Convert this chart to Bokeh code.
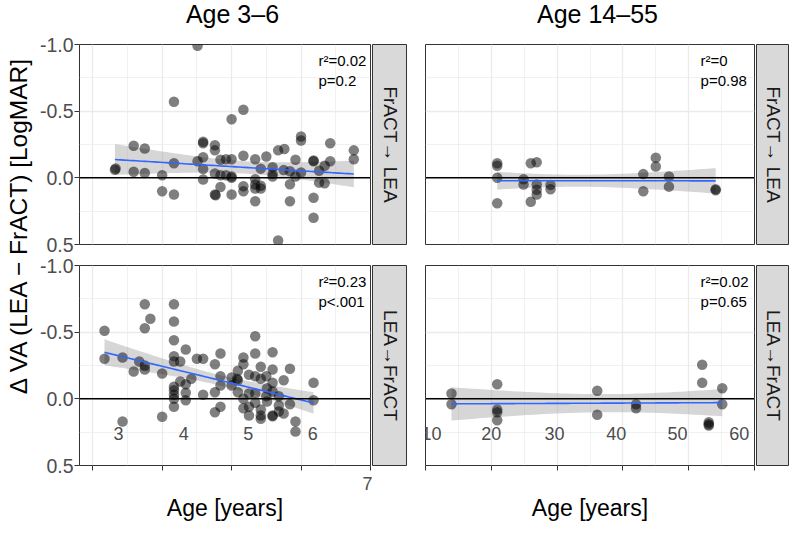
import numpy as np
from bokeh.plotting import figure
from bokeh.models import FixedTicker, Range1d, Span, NumeralTickFormatter
from bokeh.layouts import row, column
from bokeh.embed import file_html
from bokeh.resources import INLINE
from bokeh.core.properties import value

FONT = "Liberation Sans"

# ---------------- data ----------------
col_titles = ["Age 3\u20136", "Age 14\u201355"]
row_strips = ["FrACT\u2192 LEA", "LEA\u2192FrACT"]
y_title = "\u0394 VA (LEA \u2212 FrACT) [LogMAR]"
x_title = "Age [years]"

y_ticks = [-1.0, -0.5, 0.0, 0.5]
y_minor = [-0.75, -0.25, 0.25]
kid_ticks = [3, 4, 5, 6, 7]
kid_minor = [3.5, 4.5, 5.5, 6.5]
adult_ticks = [10, 20, 30, 40, 50, 60]
adult_minor = [15, 25, 35, 45, 55]

# children, FrACT -> LEA
kf_age = [3.33, 3.32, 3.59, 3.59, 3.75, 3.75, 4.0, 4.0, 4.17, 4.17, 4.17, 4.51, 4.51,
          4.59, 4.59, 4.59, 4.59, 4.59, 4.76, 4.76, 4.76, 4.76, 4.77, 4.84, 4.84, 4.84,
          4.92, 4.92, 5.0, 5.0, 5.0, 5.0, 5.0, 5.17, 5.17, 5.17, 5.17, 5.34, 5.34, 5.34,
          5.34, 5.34, 5.42, 5.42, 5.42, 5.5, 5.59, 5.59, 5.59, 5.67, 5.67, 5.75, 5.76,
          5.84, 5.84, 5.84, 5.92, 5.92, 6.0, 6.0, 6.0, 6.18, 6.18, 6.18, 6.18, 6.26, 6.26,
          6.34, 6.34, 6.42, 6.42, 6.76, 6.76]
kf_dva = [-0.07, -0.06, -0.24, -0.045, -0.22, -0.036, -0.02, 0.10, -0.57, -0.11, 0.125,
          -0.99, -0.125, -0.27, -0.26, -0.155, -0.066, 0.013, -0.244, -0.206, -0.033,
          0.125, 0.13, -0.135, -0.02, 0.069, -0.14, -0.02, -0.44, -0.14, -0.01, 0.0,
          0.125, -0.51, -0.165, 0.063, 0.10, -0.14, 0.01, 0.05, 0.08, 0.175, -0.069,
          0.06, 0.08, -0.16, -0.08, -0.03, -0.01, -0.206, 0.47, -0.058, -0.216, 0.048,
          0.175, -0.05, -0.135, -0.01, -0.31, -0.28, -0.04, -0.13, -0.125, 0.15, 0.30,
          -0.053, 0.036, -0.09, 0.04, -0.26, -0.125, -0.206, -0.14]

# children, LEA -> FrACT
kl_age = [3.17, 3.17, 3.43, 3.43, 3.59, 3.67, 3.75, 3.75, 3.75, 3.75, 3.83, 4.0, 4.0,
          4.17, 4.17, 4.17, 4.17, 4.17, 4.17, 4.17, 4.17, 4.17, 4.17,
          4.26, 4.26, 4.34, 4.34, 4.34, 4.34, 4.42, 4.5, 4.59, 4.59, 4.76, 4.76, 4.76,
          4.84, 4.84, 4.84, 4.84, 5.0, 5.0, 5.09, 5.09, 5.09, 5.08, 5.17, 5.17, 5.17,
          5.17, 5.25, 5.25, 5.25, 5.25, 5.34, 5.34, 5.34, 5.34, 5.34, 5.42, 5.42, 5.42,
          5.42, 5.42, 5.5, 5.5, 5.51, 5.51, 5.59, 5.59, 5.59, 5.59, 5.59, 5.59, 5.68,
          5.68, 5.68, 5.75, 5.75, 5.84, 5.84, 5.92, 5.92, 6.18, 6.18]
kl_dva = [-0.51, -0.30, -0.31, 0.17, -0.205, -0.28, -0.71, -0.53, -0.25, -0.22, -0.60,
          -0.19, 0.135,
          -0.71, -0.58, -0.44, -0.32, -0.28, -0.09, -0.065, -0.03, 0.0, 0.06,
          -0.28, -0.13, -0.37, -0.11, -0.045, 0.01, -0.15, -0.30, -0.30, -0.03, -0.26,
          -0.05, 0.10, -0.34, -0.17, -0.10, 0.06, -0.10, -0.16, -0.21, -0.05, -0.14,
          -0.15, -0.31, -0.26, 0.0, 0.07, -0.18, 0.06, 0.125, -0.04, -0.47, -0.34, -0.17,
          -0.04, 0.03, -0.24, 0.08, 0.125, -0.15, 0.15, -0.17, -0.02, -0.08, 0.02, -0.35,
          -0.22, -0.12, -0.055, 0.125, 0.13, -0.02, 0.095, 0.05, -0.14, 0.11, -0.225,
          0.04, 0.17, 0.245, -0.12, 0.01]

# adults, FrACT -> LEA
af_age = [20.9, 20.9, 20.9, 20.9, 24.9, 24.9, 26.0, 26.0, 26.9, 26.9, 26.9, 26.9, 29.0,
          29.0, 43.1, 43.1, 45.0, 45.0, 47.0, 47.0, 54.1, 54.1]
af_dva = [-0.11, -0.09, 0.0, 0.19, 0.01, 0.05, -0.11, 0.18, -0.117, 0.05, 0.09, 0.125,
          0.053, 0.086, -0.028, 0.10, -0.15, -0.085, -0.01, 0.066, 0.086, 0.094]

# adults, LEA -> FrACT
al_age = [13.95, 13.95, 20.9, 20.9, 20.9, 20.9, 36.1, 36.1, 42.0, 42.0, 52.05, 52.05,
          53.05, 53.05, 53.05, 55.1, 55.1]
al_dva = [-0.04, 0.04, -0.11, 0.08, 0.10, 0.16, -0.06, 0.12, 0.04, 0.07, -0.255, -0.12,
          0.175, 0.19, 0.20, -0.08, 0.04]

stats_text = [["r\u00b2=0.02", "p=0.2"], ["r\u00b2=0", "p=0.98"],
              ["r\u00b2=0.23", "p<.001"], ["r\u00b2=0.02", "p=0.65"]]

# tick-label texts drawn inside the lower panels (as in the original figure)
kid_inner_labels = ["3", "4", "5", "6"]
adult_inner_labels = ["10", "20", "30", "40", "50", "60"]

# ---------------- layout constants ----------------
FW_L, FW_R, FH = 291, 329, 200
HEAD = 34
TOP_B, MID_B1, MID_B2, BOT_B = 10, 10, 11, 66
LEFT_B, RIGHT_GAP = 43, 2
STRIP_L, STRIP_R = 35, 33
GAP_R = 18
YL_W = 36
GRID = "#EBEBEB"
BORDER = "#333333"
TXT = "#4D4D4D"


def t_quant(df):
    z = 1.959964
    return (z + (z**3 + z) / (4 * df) + (5 * z**5 + 16 * z**3 + 3 * z) / (96 * df**2)
            + (3 * z**7 + 19 * z**5 + 17 * z**3 - 15 * z) / (384 * df**3))


def lm_fit(x, y):
    x = np.asarray(x, float)
    y = np.asarray(y, float)
    n = len(x)
    b, a = np.polyfit(x, y, 1)
    xs = np.linspace(x.min(), x.max(), 80)
    yh = a + b * xs
    res = y - (a + b * x)
    s = np.sqrt(np.sum(res**2) / (n - 2))
    se = s * np.sqrt(1.0 / n + (xs - x.mean())**2 / np.sum((x - x.mean())**2))
    t = t_quant(n - 2)
    return xs, yh, yh - t * se, yh + t * se


def blank(fig):
    fig.xaxis.visible = False
    fig.yaxis.visible = False
    fig.xgrid.visible = False
    fig.ygrid.visible = False


def panel(x, y, xr, xt, xm, fw, left_b, top_b, bot_b, show_x, show_y, stats,
          stat_x, inner=None, inner_x=None, last_label=None):
    p = figure(frame_width=fw, frame_height=FH, x_range=Range1d(*xr),
               y_range=Range1d(0.5, -1.0), output_backend="svg", toolbar_location=None,
               min_border_left=left_b, min_border_right=RIGHT_GAP,
               min_border_top=top_b, min_border_bottom=bot_b)
    p.background_fill_color = "white"
    p.border_fill_color = "white"
    p.outline_line_color = BORDER
    p.outline_line_width = 1

    xtick = FixedTicker(ticks=xt, minor_ticks=xm)
    ytick = FixedTicker(ticks=y_ticks, minor_ticks=y_minor)
    p.xaxis.ticker = xtick
    p.yaxis.ticker = ytick
    p.xgrid.ticker = xtick
    p.ygrid.ticker = ytick
    for g in (p.xgrid, p.ygrid):
        g.grid_line_color = GRID
        g.grid_line_width = 1.3
        g.minor_grid_line_color = GRID
        g.minor_grid_line_width = 0.7

    for ax in (p.xaxis, p.yaxis):
        ax.axis_line_color = None
        ax.major_tick_line_color = BORDER
        ax.major_tick_in = 0
        ax.major_tick_out = 5
        ax.minor_tick_line_color = None
        ax.major_label_text_font = FONT
        ax.major_label_text_font_size = "18px"
        ax.major_label_text_color = TXT

    p.yaxis.formatter = NumeralTickFormatter(format="0.0")
    p.yaxis.major_label_text_font_size = "19.5px"
    p.yaxis.major_label_standoff = 1
    p.yaxis.visible = show_y

    if show_x:
        p.xaxis.major_label_standoff = 3
        ov = {}
        for t in xt:
            ov[t] = str(t) if t == last_label else " "
        p.xaxis.major_label_overrides = ov
        p.xaxis.axis_label = x_title
        p.xaxis.axis_label_text_font = FONT
        p.xaxis.axis_label_text_font_size = "23px"
        p.xaxis.axis_label_text_font_style = "normal"
        p.xaxis.axis_label_text_color = "black"
        p.xaxis.axis_label_standoff = -2
    else:
        p.xaxis.visible = False

    xs, yh, lo, hi = lm_fit(x, y)
    p.varea(x=xs, y1=lo, y2=hi, fill_color="#999999", fill_alpha=0.4)
    p.scatter(x, y, size=10.5, fill_color="black", fill_alpha=0.5, line_color=None)
    p.add_layout(Span(location=0, dimension="width", line_color="black", line_width=1.5))
    p.line(xs, yh, line_color="#3366FF", line_width=1.6)

    p.text(x=[stat_x, stat_x], y=[-0.88, -0.73], text=stats,
           text_font=value(FONT), text_font_size="15px", text_color="black",
           text_align="left", text_baseline="middle")

    if inner is not None:
        p.text(x=inner_x, y=[0.26] * len(inner), text=inner,
               text_font=value(FONT), text_font_size="18px", text_color=TXT,
               text_align="center", text_baseline="middle")
    return p


def strip(label, w, top_b, bot_b):
    s = figure(frame_width=w, frame_height=FH, x_range=Range1d(0, 1),
               y_range=Range1d(0, 1), output_backend="svg", toolbar_location=None,
               min_border_left=0, min_border_right=0,
               min_border_top=top_b, min_border_bottom=bot_b)
    blank(s)
    s.background_fill_color = "#D9D9D9"
    s.border_fill_color = "white"
    s.outline_line_color = BORDER
    s.text(x=[0.5], y=[0.5], text=[label], angle=-np.pi / 2,
           text_font=value(FONT), text_font_size="19px", text_color="#1A1A1A",
           text_align="center", text_baseline="middle")
    return s


kid_xr = (2.81, 7.0)
adult_xr = (10.0, 60.0)
kid_inner_x = [3.37, 4.31, 5.24, 6.17]
adult_inner_x = [10.9, 20.0, 29.6, 39.0, 48.3, 57.7]

tl = panel(kf_age, kf_dva, kid_xr, kid_ticks, kid_minor, FW_L, LEFT_B, TOP_B, MID_B1,
           False, True, stats_text[0], 6.25)
tr = panel(af_age, af_dva, adult_xr, adult_ticks, adult_minor, FW_R, GAP_R, TOP_B, MID_B1,
           False, False, stats_text[1], 51.8)
bl = panel(kl_age, kl_dva, kid_xr, kid_ticks, kid_minor, FW_L, LEFT_B, MID_B2, BOT_B,
           True, True, stats_text[2], 6.25, inner=kid_inner_labels,
           inner_x=kid_inner_x, last_label=7)
br = panel(al_age, al_dva, adult_xr, adult_ticks, adult_minor, FW_R, GAP_R, MID_B2, BOT_B,
           True, False, stats_text[3], 51.8, inner=adult_inner_labels,
           inner_x=adult_inner_x, last_label=None)

tls = strip(row_strips[0], STRIP_L, TOP_B, MID_B1)
trs = strip(row_strips[0], STRIP_R, TOP_B, MID_B1)
bls = strip(row_strips[1], STRIP_L, MID_B2, BOT_B)
brs = strip(row_strips[1], STRIP_R, MID_B2, BOT_B)

# column titles
W_ROW = (LEFT_B + FW_L + RIGHT_GAP) + STRIP_L + (GAP_R + FW_R + RIGHT_GAP) + STRIP_R
head = figure(frame_width=W_ROW, frame_height=HEAD, x_range=Range1d(0, W_ROW),
              y_range=Range1d(0, HEAD), output_backend="svg", toolbar_location=None,
              min_border=0)
blank(head)
head.outline_line_color = None
head.text(x=[196, 561], y=[HEAD - 13, HEAD - 13], text=col_titles,
          text_font=value(FONT), text_font_size="25px", text_color="black",
          text_align="center", text_baseline="middle")

# y-axis title
H = HEAD + TOP_B + FH + MID_B1 + MID_B2 + FH + BOT_B
yl = figure(frame_width=YL_W, frame_height=H, x_range=Range1d(0, YL_W),
            y_range=Range1d(0, H), output_backend="svg", toolbar_location=None,
            min_border=0)
blank(yl)
yl.outline_line_color = None
yl.text(x=[18], y=[H - 224], text=[y_title], angle=np.pi / 2,
        text_font=value(FONT), text_font_size="24.5px", text_color="black",
        text_align="center", text_baseline="middle")

layout = row(yl, column(head, row(tl, tls, tr, trs), row(bl, bls, br, brs)))

open("out.html", "w").write(file_html(layout, INLINE))
